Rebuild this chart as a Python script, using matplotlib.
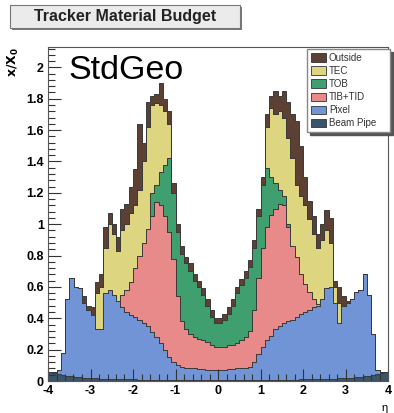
import numpy as np
import matplotlib
matplotlib.use('Agg')
import matplotlib.pyplot as plt
from matplotlib.patches import Rectangle, Patch
from matplotlib.ticker import MultipleLocator

plt.rcParams['font.family'] = ['Liberation Sans', 'DejaVu Sans']

# eta bins of width 0.1 from -4 to 4 (80 bins); values are the cumulative
# top of each stacked layer. 0 = layer absent in that
# bin (it is clamped to the layer below when drawn).
eta_edges = np.linspace(-4, 4, 81)

beampipe = [0.055, 0.048, 0.042, 0.037, 0.033, 0.029, 0.026, 0.023, 0.021, 0.019,
            0.017, 0.016, 0.015, 0.014, 0.013, 0.012, 0.011, 0.011, 0.010, 0.010,
            0.010, 0.009, 0.009, 0.009, 0.009, 0.009, 0.008, 0.008, 0.008, 0.008,
            0.008, 0.008, 0.008, 0.008, 0.008, 0.008, 0.008, 0.008, 0.008, 0.008,
            0.008, 0.008, 0.008, 0.008, 0.008, 0.008, 0.008, 0.008, 0.008, 0.008,
            0.008, 0.008, 0.008, 0.008, 0.009, 0.009, 0.009, 0.009, 0.009, 0.010,
            0.010, 0.010, 0.011, 0.011, 0.012, 0.013, 0.014, 0.015, 0.016, 0.017,
            0.019, 0.021, 0.023, 0.026, 0.029, 0.033, 0.037, 0.042, 0.048, 0.055]

pixel = [0.06, 0.06, 0.07, 0.18, 0.52, 0.66, 0.60, 0.59, 0.50, 0.45,
         0.42, 0.33, 0.33, 0.56, 0.58, 0.55, 0.51, 0.47, 0.44, 0.42,
         0.41, 0.39, 0.37, 0.35, 0.31, 0.28, 0.24, 0.20, 0.15, 0.12,
         0.10, 0.09, 0.085, 0.08, 0.08, 0.075, 0.075, 0.07, 0.07, 0.07,
         0.07, 0.07, 0.075, 0.075, 0.08, 0.08, 0.085, 0.09, 0.12, 0.17,
         0.22, 0.26, 0.29, 0.33, 0.35, 0.37, 0.38, 0.39, 0.41, 0.43,
         0.44, 0.45, 0.47, 0.48, 0.52, 0.59, 0.60, 0.50, 0.37, 0.48,
         0.50, 0.52, 0.57, 0.58, 0.68, 0.55, 0.30, 0.07, 0.06, 0.06]

tib_tid = [0, 0, 0, 0, 0, 0, 0, 0, 0, 0,
           0, 0, 0, 0, 0, 0, 0, 0.55, 0.58, 0.63,
           0.72, 0.80, 0.88, 0.97, 1.05, 1.14, 1.12, 1.05, 0.95, 0.78,
           0.54, 0.38, 0.33, 0.30, 0.28, 0.27, 0.26, 0.25, 0.23, 0.22,
           0.22, 0.22, 0.23, 0.23, 0.24, 0.26, 0.28, 0.32, 0.45, 0.66,
           0.85, 0.98, 1.06, 1.10, 1.13, 1.12, 0.98, 0.86, 0.79, 0.68,
           0.62, 0.57, 0.52, 0.49, 0, 0, 0, 0, 0, 0,
           0, 0, 0, 0, 0, 0, 0, 0, 0, 0]

tob = [0, 0, 0, 0, 0, 0, 0, 0, 0, 0,
       0, 0, 0, 0, 0, 0, 0, 0, 0, 0,
       0, 0, 0, 0, 1.20, 1.25, 1.33, 1.38, 1.42, 1.20,
       0.95, 0.81, 0.75, 0.70, 0.64, 0.60, 0.55, 0.48, 0.41, 0.37,
       0.37, 0.39, 0.43, 0.48, 0.56, 0.61, 0.66, 0.73, 0.85, 1.05,
       1.25, 1.36, 1.30, 1.26, 1.22, 1.18, 1.00, 0, 0, 0,
       0, 0, 0, 0, 0, 0, 0, 0, 0, 0,
       0, 0, 0, 0, 0, 0, 0, 0, 0, 0]

tec = [0, 0, 0, 0, 0, 0, 0, 0, 0, 0,
       0, 0.56, 0.60, 0.85, 1.00, 0.94, 0.83, 0.96, 1.00, 1.07,
       1.12, 1.22, 1.40, 1.62, 1.76, 1.77, 1.76, 1.72, 1.64, 0,
       0, 0, 0, 0, 0, 0, 0, 0, 0, 0,
       0, 0, 0, 0, 0, 0, 0, 0, 0, 0,
       0, 1.62, 1.74, 1.70, 1.72, 1.68, 1.55, 1.42, 1.25, 1.18,
       1.12, 1.03, 0.94, 0.85, 0.90, 0.96, 0.88, 0.60, 0.50, 0,
       0, 0, 0, 0, 0, 0, 0, 0, 0, 0]

outside = [0, 0, 0, 0, 0, 0, 0, 0, 0.54, 0.48,
           0.47, 0.63, 0.68, 0.98, 1.07, 1.00, 0.92, 1.10, 1.13, 1.24,
           1.35, 1.64, 1.52, 1.78, 1.82, 1.83, 1.90, 1.80, 1.72, 1.26,
           1.00, 0.86, 0.79, 0.75, 0.68, 0.64, 0.59, 0.52, 0.45, 0.40,
           0.40, 0.43, 0.47, 0.52, 0.60, 0.65, 0.70, 0.77, 0.90, 1.10,
           1.30, 1.70, 1.82, 1.85, 1.82, 1.85, 1.78, 1.70, 1.66, 1.50,
           1.30, 1.15, 1.05, 0.94, 1.00, 1.09, 1.04, 0.64, 0.60, 0.54,
           0.51, 0, 0, 0, 0, 0, 0, 0, 0, 0]

layer_names = ['Beam Pipe', 'Pixel', 'TIB+TID', 'TOB', 'TEC', 'Outside']
layer_values = [beampipe, pixel, tib_tid, tob, tec, outside]
layer_colors = ['#3b5468', '#7094d6', '#e88a8a', '#3f9f6e', '#ddd580', '#5b4033']

xtick_labels = ['-4', '-3', '-2', '-1', '0', '1', '2', '3', '4']
ytick_labels = ['0', '0.2', '0.4', '0.6', '0.8', '1', '1.2', '1.4', '1.6', '1.8', '2']

fig = plt.figure(figsize=(3.94, 4.13), dpi=100)
ax = fig.add_axes([48 / 394, 32 / 413, 340 / 394, 334 / 413])

prev = np.zeros(len(eta_edges) - 1)
for name, vals, col in zip(layer_names, layer_values, layer_colors):
    top = np.maximum(np.array(vals, dtype=float), prev)
    ax.stairs(top, eta_edges, baseline=prev, fill=True, facecolor=col,
              edgecolor='#3a3a3a', linewidth=0.7, label=name)
    prev = top

ax.set_xlim(-4, 4)
ax.set_ylim(0, 2.13)

ax.set_xticks(range(-4, 5))
ax.set_xticklabels(xtick_labels)
ax.set_yticks([0.2 * i for i in range(11)])
ax.set_yticklabels(ytick_labels)
ax.xaxis.set_minor_locator(MultipleLocator(0.2))
ax.yaxis.set_minor_locator(MultipleLocator(0.04))
ax.tick_params(which='both', direction='in', top=False, right=False,
               color='#333333', width=0.8)
ax.tick_params(which='major', length=9, labelsize=9, pad=3)
ax.tick_params(which='minor', length=5)
for lbl in ax.get_xticklabels() + ax.get_yticklabels():
    lbl.set_fontweight('bold')
for sp in ax.spines.values():
    sp.set_linewidth(0.8)
    sp.set_color('#555555')

ax.set_ylabel(r'$\mathbf{x/X_0}$', loc='top', fontsize=9)
ax.yaxis.set_label_coords(-0.08, 1.0)
ax.set_xlabel('η', loc='right', fontsize=8)
ax.xaxis.set_label_coords(1.0, -0.065)

# legend, top entry first as in the picture
handles = [Patch(facecolor=c, edgecolor='#333333', linewidth=0.6) for c in layer_colors[::-1]]
ax.legend(handles, layer_names[::-1], loc='upper left', mode='expand',
          bbox_to_anchor=(0.762, 0.75, 0.244, 0.244),
          borderaxespad=0, fontsize=7, handlelength=1.5, handleheight=1.0,
          labelspacing=0.32, borderpad=0.4, handletextpad=0.35, fancybox=False,
          edgecolor='#888888', framealpha=1, labelcolor='#333333',
          shadow={'ox': 2, 'oy': -2, 'color': '#555555', 'alpha': 1})

# title box
fig.patches.append(Rectangle((12 / 394, (413 - 30) / 413), 230 / 394, 23 / 413,
                             transform=fig.transFigure, facecolor='#777777',
                             edgecolor='none'))
fig.patches.append(Rectangle((10 / 394, (413 - 28) / 413), 230 / 394, 23 / 413,
                             transform=fig.transFigure, facecolor='#ebebeb',
                             edgecolor='#777777', linewidth=0.8))
fig.text(125 / 394, (413 - 17) / 413, 'Tracker Material Budget', ha='center', va='center',
         fontsize=11.5, fontweight='bold', color='#222222')

fig.text(68 / 394, (413 - 79) / 413, 'StdGeo', ha='left', va='baseline', fontsize=24.5,
         color='black')

fig.savefig('out.png', dpi=100)
